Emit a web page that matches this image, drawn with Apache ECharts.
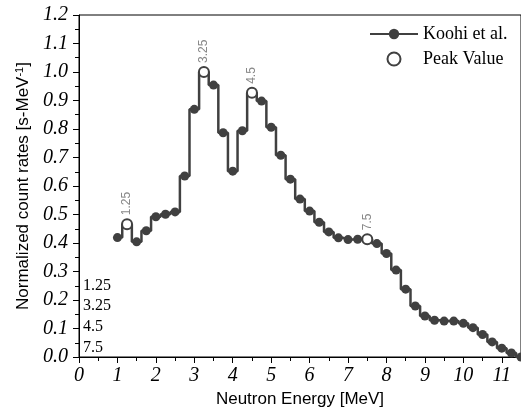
<!DOCTYPE html>
<html>
<head>
<meta charset="utf-8">
<script src="https://cdn.jsdelivr.net/npm/echarts@6/dist/echarts.min.js"></script>
<style>
  html, body { margin: 0; padding: 0; background: #fff; }
  #chart { width: 521px; height: 414px; }
</style>
</head>
<body>
<div id="chart"></div>
<script>
// neutron energy [MeV] and normalized count rates
const energy = [1, 1.25, 1.5, 1.75, 2, 2.25, 2.5, 2.75, 3, 3.25, 3.5, 3.75, 4, 4.25, 4.5, 4.75,
  5, 5.25, 5.5, 5.75, 6, 6.25, 6.5, 6.75, 7, 7.25, 7.5, 7.75, 8, 8.25, 8.5, 8.75,
  9, 9.25, 9.5, 9.75, 10, 10.25, 10.5, 10.75, 11, 11.25, 11.5]
const countRate = [0.419, 0.466, 0.404, 0.443, 0.492, 0.501, 0.509, 0.635, 0.869, 1.0, 0.954, 0.787, 0.652, 0.794, 0.927, 0.898,
  0.806, 0.708, 0.624, 0.554, 0.512, 0.473, 0.439, 0.418, 0.412, 0.413, 0.413, 0.398, 0.363, 0.305, 0.238, 0.179,
  0.144, 0.129, 0.126, 0.126, 0.118, 0.103, 0.079, 0.053, 0.031, 0.014, 0.0]
// peak positions
const peakEnergy = [1.25, 3.25, 4.5, 7.5]
const peakRate = [0.466, 1.0, 0.927, 0.413]
const yTicks = [0, 0.1, 0.2, 0.3, 0.4, 0.5, 0.6, 0.7, 0.8, 0.9, 1.0, 1.1, 1.2]

const serif = 'Liberation Serif'
const sans = 'Liberation Sans'
const lineColor = '#404040'

const myChart = echarts.init(document.getElementById('chart'))
const option = {
    animation: false,
    backgroundColor: '#fff',
    grid: {
        left: 79, top: 15, bottom: 57, right: -3,
        show: true, borderColor: '#000', borderWidth: 1
    },
    legend: {
        orient: 'vertical',
        left: 364, top: 20,
        itemWidth: 48, itemHeight: 13, itemGap: 7,
        textStyle: { fontFamily: serif, fontSize: 18, color: '#000' },
        data: ['Koohi et al.', 'Peak Value']
    },
    xAxis: {
        type: 'value',
        min: 0, max: 11.5, interval: 1,
        name: 'Neutron Energy [MeV]',
        nameLocation: 'middle', nameGap: 28,
        nameTextStyle: { fontFamily: sans, fontSize: 17, color: '#000' },
        axisLine: { lineStyle: { color: '#000', width: 1 } },
        axisTick: { show: true, length: 6, lineStyle: { color: '#000' } },
        minorTick: { show: true, splitNumber: 2, length: 4, lineStyle: { color: '#000' } },
        splitLine: { show: false },
        axisLabel: {
            showMaxLabel: false, margin: 9,
            fontFamily: 'Times New Roman', fontStyle: 'italic', fontSize: 20, color: '#000'
        }
    },
    yAxis: {
        type: 'value',
        min: yTicks[0], max: yTicks[yTicks.length - 1], interval: 0.1,
        name: '{a|Normalized count rates [s-MeV}{s|-1}{a|]}',
        nameLocation: 'middle', nameGap: 46,
        nameTextStyle: {
            rich: {
                a: { fontFamily: sans, fontSize: 17, color: '#000' },
                s: { fontFamily: sans, fontSize: 11, color: '#000', verticalAlign: 'top', padding: [0, 0, 8, 0] }
            }
        },
        axisLine: { show: true, lineStyle: { color: '#000', width: 1 } },
        axisTick: { show: true, length: 6, lineStyle: { color: '#000' } },
        minorTick: { show: true, splitNumber: 2, length: 4, lineStyle: { color: '#000' } },
        splitLine: { show: false },
        axisLabel: {
            margin: 11,
            fontFamily: 'Times New Roman', fontStyle: 'italic', fontSize: 20, color: '#000',
            formatter: v => v.toFixed(1)
        }
    },
    graphic: [{
        type: 'text',
        left: 83, top: 275,
        style: {
            text: peakEnergy.join('\n'),
            fontFamily: serif, fontSize: 16,
            lineHeight: 20.7,
            fill: '#000'
        }
    }],
    series: [
        {
            name: 'Koohi et al.',
            type: 'line',
            step: 'middle',
            symbol: 'circle',
            symbolSize: 9,
            lineStyle: { color: lineColor, width: 2.5 },
            itemStyle: { color: lineColor },
            data: energy.map((x, i) => [x, countRate[i]])
        },
        {
            name: 'Peak Value',
            type: 'scatter',
            symbol: 'emptyCircle',
            symbolSize: 10,
            z: 5,
            itemStyle: { color: lineColor, borderWidth: 1, opacity: 1 },
            label: {
                show: true,
                position: 'top',
                distance: 3,
                rotate: 90,
                align: 'left',
                verticalAlign: 'middle',
                fontFamily: sans, fontSize: 12, color: '#888',
                formatter: p => String(p.value[0])
            },
            data: peakEnergy.map((x, i) => [x, peakRate[i]])
        }
    ]
}
myChart.setOption(option)
</script>
</body>
</html>
